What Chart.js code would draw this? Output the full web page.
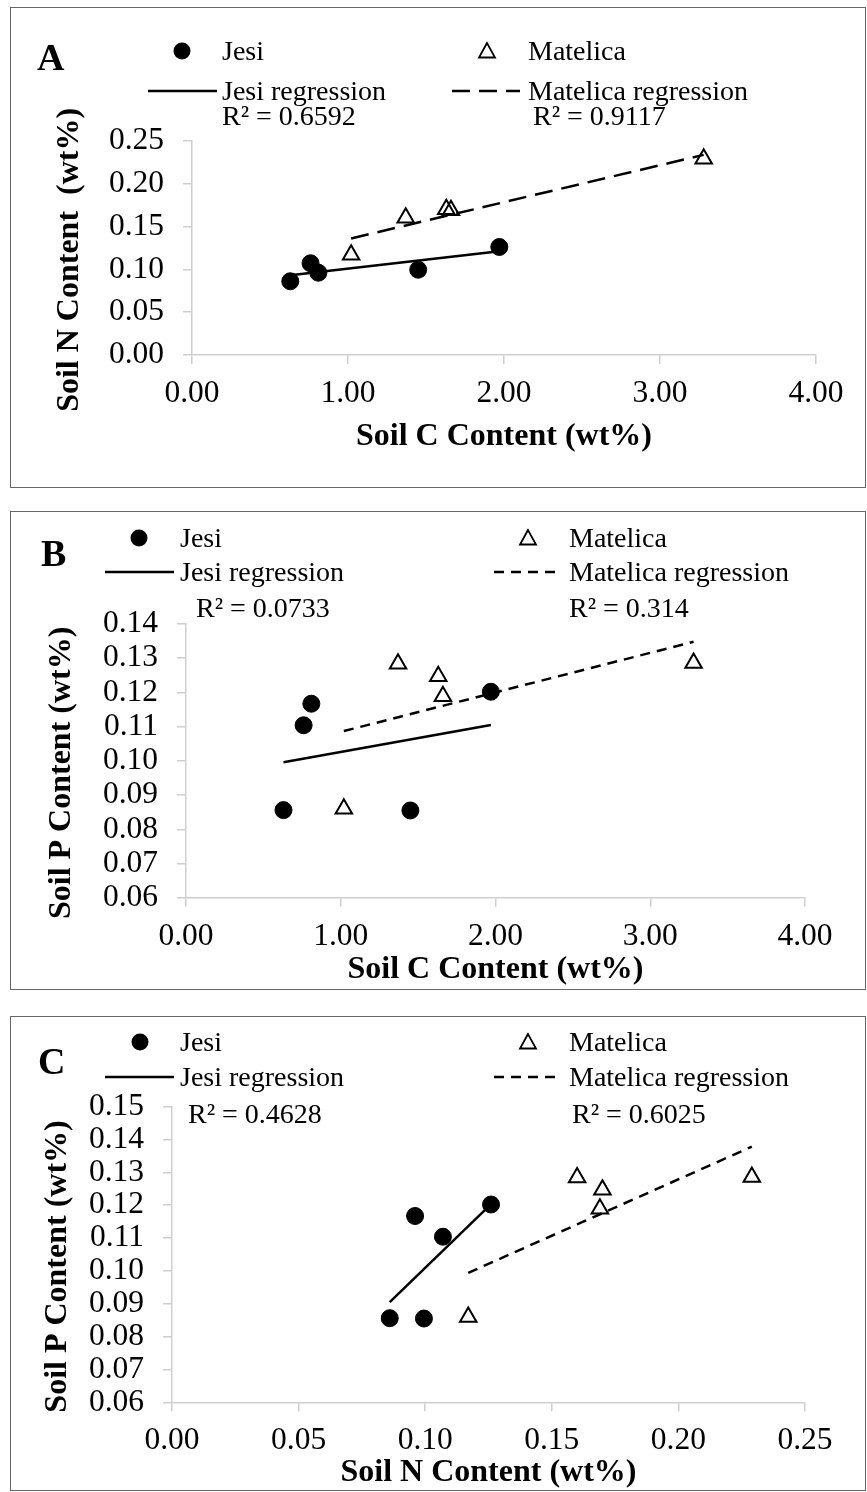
<!DOCTYPE html>
<html>
<head>
<meta charset="utf-8">
<script src="https://cdn.jsdelivr.net/npm/chart.js@4.4.1/dist/chart.umd.min.js"></script>
<style>
  body { margin: 0; width: 867px; height: 1492px; background: #fff; position: relative; overflow: hidden;
         font-family: "Liberation Serif", "Times New Roman", serif; }
  .box { position: absolute; border: 1.5px solid #666; box-sizing: border-box; }
  .wrap { position: absolute; left: 0; width: 867px; }
  .t { position: absolute; white-space: pre; font-size: 28px; line-height: 28px; color: #000; }
  .letter { position: absolute; font-weight: bold; font-size: 38px; line-height: 38px; color: #000; }
  svg.sym { position: absolute; left: 0; top: 0; width: 867px; height: 1492px; overflow: visible; pointer-events: none; }
</style>
</head>
<body>
<div class="box" style="left:10px; top:7px; width:856px; height:481px;"></div>
<div class="box" style="left:10px; top:511px; width:856px; height:479px;"></div>
<div class="box" style="left:10px; top:1016px; width:856px; height:475px;"></div>

<div class="wrap" style="top:0; height:500px;"><canvas id="chartA" width="867" height="500"></canvas></div>
<div class="wrap" style="top:500px; height:500px;"><canvas id="chartB" width="867" height="500"></canvas></div>
<div class="wrap" style="top:1000px; height:492px;"><canvas id="chartC" width="867" height="492"></canvas></div>

<svg class="sym" id="sym"></svg>
<div id="labels"></div>

<script>
// values (wt%)
const jesiC = [0.63, 0.76, 0.81, 1.45, 1.97];
const jesiN = [0.086, 0.107, 0.096, 0.0995, 0.126];
const jesiP = [0.0856, 0.1104, 0.1167, 0.0855, 0.1202];

const matC = [1.02, 1.37, 1.63, 1.66, 3.28];
const matN = [0.117, 0.160, 0.170, 0.169, 0.229];
const matP = [0.086, 0.1284, 0.1247, 0.1189, 0.1286];

// regression line end points as drawn in the figure
const fitAJesiX = [0.63, 1.97], fitAJesiY = [0.093, 0.121];
const fitAMatX = [1.02, 3.28], fitAMatY = [0.136, 0.2335];
const fitBJesiX = [0.63, 1.97], fitBJesiY = [0.0996, 0.1105];
const fitBMatX = [1.02, 3.28], fitBMatY = [0.1087, 0.1348];
const fitCJesiX = [0.086, 0.126], fitCJesiY = [0.0905, 0.1203];
const fitCMatX = [0.117, 0.229], fitCMatY = [0.0994, 0.1378];

// tick values
const cTicks = [0, 1, 2, 3, 4];
const nTicksX = [0, 0.05, 0.10, 0.15, 0.20, 0.25];
const nTicksY = [0, 0.05, 0.10, 0.15, 0.20, 0.25];
const pTicksB = [0.06, 0.07, 0.08, 0.09, 0.10, 0.11, 0.12, 0.13, 0.14];
const pTicksC = [0.06, 0.07, 0.08, 0.09, 0.10, 0.11, 0.12, 0.13, 0.14, 0.15];

const r2Text = {
  A: ['R² = 0.6592', 'R² = 0.9117'],
  B: ['R² = 0.0733', 'R² = 0.314'],
  C: ['R² = 0.4628', 'R² = 0.6025']
};

const SERIF = '"Liberation Serif", "Times New Roman", serif';
const AXIS = '#cfcfcf';

Chart.defaults.font.family = SERIF;

const zip = (xs, ys) => xs.map((x, i) => ({ x, y: ys[i] }));

function axis(ticks, title, size, isX, titlePad) {
  return {
    type: 'linear',
    min: ticks[0],
    max: ticks[ticks.length - 1],
    afterBuildTicks: s => { s.ticks = ticks.map(v => ({ value: v })); },
    afterFit: s => { if (isX) s.height = size; else s.width = size; },
    border: { display: true, color: AXIS, width: 1.5 },
    grid: { drawOnChartArea: false, drawTicks: true, tickLength: 9, color: AXIS, lineWidth: 1.5 },
    ticks: {
      color: '#000', autoSkip: false, maxRotation: 0,
      font: { family: SERIF, size: 31.5 },
      padding: isX ? 11 : 19,
      callback: v => v.toFixed(2)
    },
    title: {
      display: true, text: title, color: '#000',
      font: { family: SERIF, size: 32, weight: 'bold' },
      padding: titlePad
    }
  };
}

function datasets(jx, jy, mx, my, fjx, fjy, fmx, fmy, dash) {
  return [
    { label: 'Jesi', data: zip(jx, jy), pointStyle: 'circle', pointRadius: 8.5,
      backgroundColor: '#000', borderColor: '#000', showLine: false },
    { label: 'Matelica', data: zip(mx, my), pointStyle: 'triangle', pointRadius: 9.5,
      backgroundColor: 'rgba(0,0,0,0)', borderColor: '#000', pointBorderWidth: 2, showLine: false },
    { label: 'Jesi regression', data: zip(fjx, fjy), showLine: true, pointRadius: 0,
      borderColor: '#000', borderWidth: 2.5 },
    { label: 'Matelica regression', data: zip(fmx, fmy), showLine: true, pointRadius: 0,
      borderColor: '#000', borderWidth: 2.5, borderDash: dash }
  ];
}

function makeChart(id, data, xAxis, yAxis, pad) {
  return new Chart(document.getElementById(id), {
    type: 'scatter',
    data: { datasets: data },
    options: {
      responsive: false,
      devicePixelRatio: 1,
      animation: false,
      events: [],
      layout: { padding: pad },
      plugins: { legend: { display: false }, tooltip: { enabled: false } },
      scales: { x: xAxis, y: yAxis }
    }
  });
}

makeChart('chartA',
  datasets(jesiC, jesiN, matC, matN, fitAJesiX, fitAJesiY, fitAMatX, fitAMatY, [18, 9]),
  axis(cTicks, 'Soil C Content (wt%)', 145, true, { bottom: 44 }),
  axis(nTicksY, 'Soil N Content  (wt%)   ', 192, false, { top: 51 }),
  { left: 0, top: 140.7, right: 51, bottom: 0 });

makeChart('chartB',
  datasets(jesiC, jesiP, matC, matP, fitBJesiX, fitBJesiY, fitBMatX, fitBMatY, [10, 7]),
  axis(cTicks, 'Soil C Content (wt%)', 102.3, true, { bottom: 11 }),
  axis(pTicksB, 'Soil P Content (wt%)   ', 186, false, { top: 43 }),
  { left: 0, top: 124, right: 62, bottom: 0 });

makeChart('chartC',
  datasets(jesiN, jesiP, matN, matP, fitCJesiX, fitCJesiY, fitCMatX, fitCMatY, [10, 7]),
  axis(nTicksX, 'Soil N Content (wt%)', 89.7, true, { bottom: 0 }),
  axis(pTicksC, 'Soil P Content (wt%)   ', 172, false, { top: 39 }),
  { left: 0, top: 106.6, right: 62, bottom: 0 });

// legend blocks, page coordinates
const legendLayout = [
  { key: 'A', letter: [37, 57], row1: 51, row2: 91, r2y: 116, dot: 182, tri: 487,
    solid: [148, 217], dash: [452, 520], dashPat: '18 9', jx: 222, mx: 528, r2x: [222, 533] },
  { key: 'B', letter: [41, 553], row1: 538, row2: 572, r2y: 608, dot: 139, tri: 528,
    solid: [105, 174], dash: [494, 561], dashPat: '10 7', jx: 180, mx: 569, r2x: [196, 569] },
  { key: 'C', letter: [38, 1061], row1: 1042, row2: 1077, r2y: 1114, dot: 140, tri: 528,
    solid: [105, 174], dash: [494, 561], dashPat: '10 7', jx: 180, mx: 569, r2x: [188, 572] }
];

const svg = document.getElementById('sym');
const labels = document.getElementById('labels');
let svgHtml = '';
let labelHtml = '';

function text(str, x, cy, cls, size) {
  const top = cy - 0.5065 * size;
  labelHtml += `<div class="${cls}" style="left:${x}px; top:${top}px;">${str}</div>`;
}

legendLayout.forEach(l => {
  text(l.key, l.letter[0], l.letter[1], 'letter', 38);
  svgHtml += `<circle cx="${l.dot}" cy="${l.row1}" r="8.5" fill="#000"/>`;
  const t = l.tri, y = l.row1;
  svgHtml += `<polygon points="${t},${y - 8} ${t - 8},${y + 6.5} ${t + 8},${y + 6.5}" fill="none" stroke="#000" stroke-width="1.8"/>`;
  svgHtml += `<line x1="${l.solid[0]}" y1="${l.row2}" x2="${l.solid[1]}" y2="${l.row2}" stroke="#000" stroke-width="2.5"/>`;
  svgHtml += `<line x1="${l.dash[0]}" y1="${l.row2}" x2="${l.dash[1]}" y2="${l.row2}" stroke="#000" stroke-width="2.5" stroke-dasharray="${l.dashPat}"/>`;
  text('Jesi', l.jx, l.row1, 't', 28);
  text('Matelica', l.mx, l.row1, 't', 28);
  text('Jesi regression', l.jx, l.row2, 't', 28);
  text('Matelica regression', l.mx, l.row2, 't', 28);
  text(r2Text[l.key][0], l.r2x[0], l.r2y, 't', 28);
  text(r2Text[l.key][1], l.r2x[1], l.r2y, 't', 28);
});

svg.innerHTML = svgHtml;
labels.innerHTML = labelHtml;
</script>
</body>
</html>
